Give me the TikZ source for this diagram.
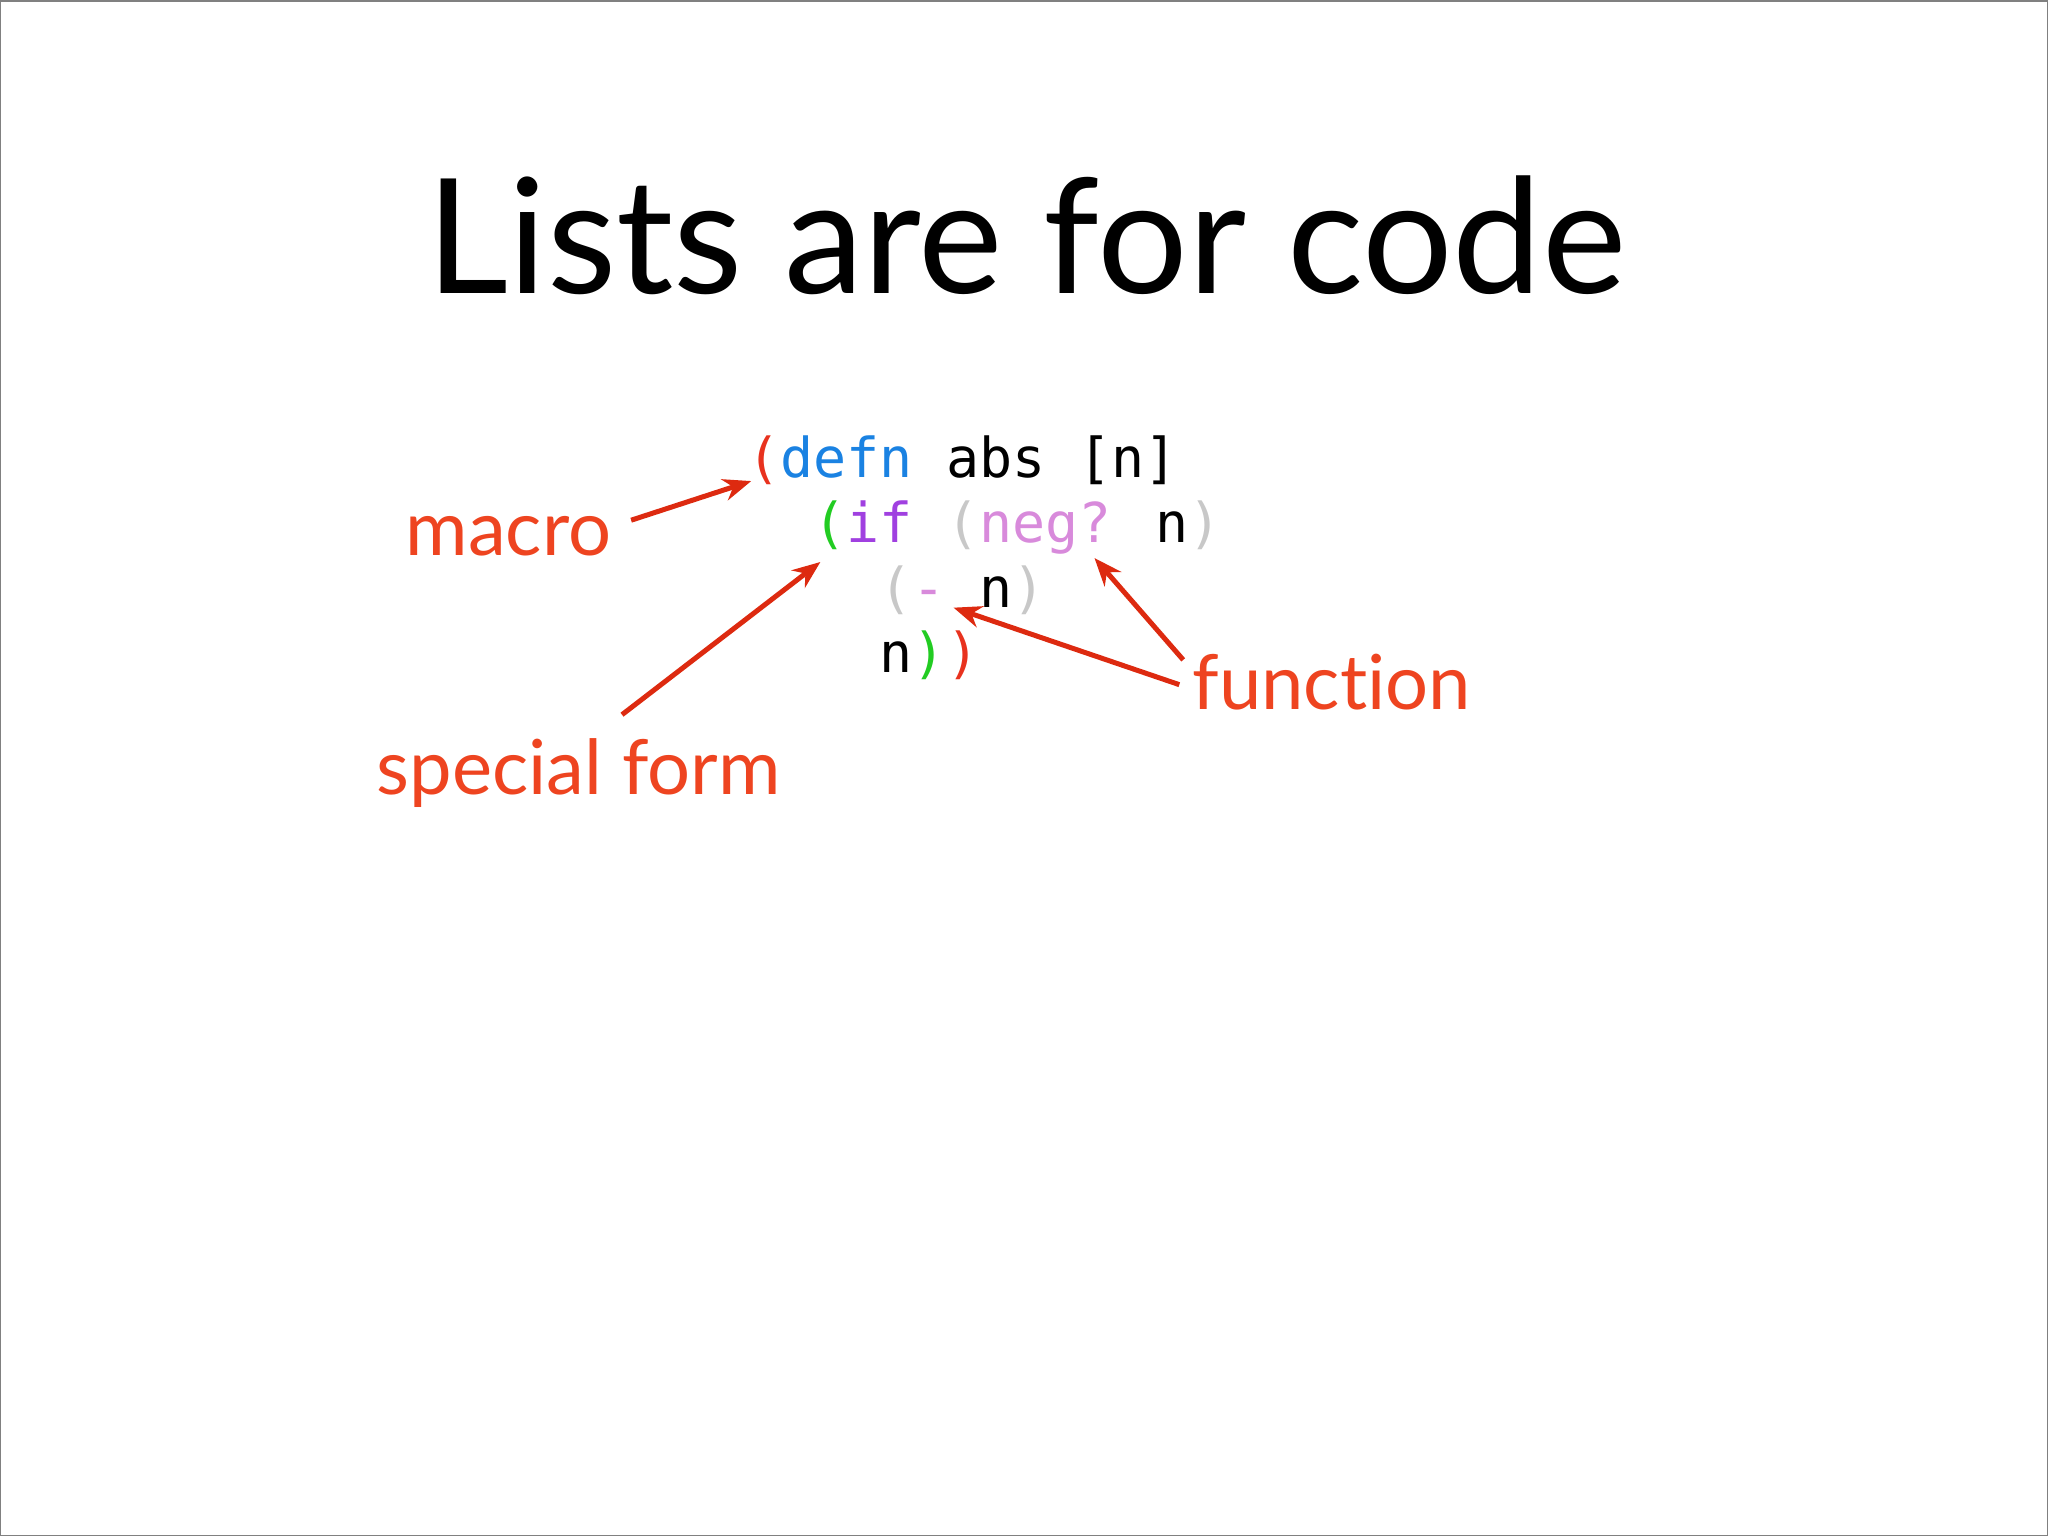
\documentclass[tikz,border=0pt]{standalone}
\usepackage{fontspec}
\setmainfont[Ligatures=NoCommon]{Lato}
\newfontfamily\codefont{DejaVu Sans Mono}
\usetikzlibrary{arrows.meta}
\definecolor{lbl}{HTML}{EE4420}
\definecolor{arr}{HTML}{DD2A10}
\definecolor{cred}{HTML}{E8321E}
\definecolor{cblue}{HTML}{1A82E2}
\definecolor{cgreen}{HTML}{22CC22}
\definecolor{cpurple}{HTML}{A040E0}
\definecolor{cpink}{HTML}{D88ADB}
\definecolor{cgray}{HTML}{C8C8C8}
\tikzset{
 lab/.style={anchor=base west,inner sep=0,text=lbl,font=\fontsize{76}{80}\selectfont},
 code/.style={anchor=base west,inner sep=0,font=\codefont\fontsize{55}{60}\selectfont},
 pointer/.style={draw=arr,line width=5pt,-{Stealth[length=28pt,width=22pt]}}
}
\begin{document}
\begin{tikzpicture}[x=1.30612pt,y=-1.30612pt]
\draw[gray,line width=1.5pt] (0,0) rectangle (1568,1176);
\node[anchor=base,inner sep=0,font=\fontsize{160}{170}\selectfont] (title) at (786,224) {Lists are for code};
\node[code] (l1) at (572,365) {\textcolor{cred}{(}\textcolor{cblue}{defn} abs [n]};
\node[code] (l2) at (572,415) {\phantom{xx}\textcolor{cgreen}{(}\textcolor{cpurple}{if} \textcolor{cgray}{(}\textcolor{cpink}{neg?} n\textcolor{cgray}{)}};
\node[code] (l3) at (572,465) {\phantom{xxxx}\textcolor{cgray}{(}\textcolor{cpink}{-} n\textcolor{cgray}{)}};
\node[code] (l4) at (572,515) {\phantom{xxxx}n\textcolor{cgreen}{)}\textcolor{cred}{)}};
\node[lab] (macro) at (310,425) {macro};
\node[lab] (special) at (288,608) {special form};
\node[lab] (function) at (913,543) {function};
\coordinate (m1) at (483,398); \coordinate (m2) at (575,368);
\coordinate (s1) at (476,547); \coordinate (s2) at (628,430);
\coordinate (f1) at (903,524); \coordinate (f2) at (730,465);
\coordinate (g1) at (906,505); \coordinate (g2) at (838,427);
\draw[pointer] (m1) -- (m2);
\draw[pointer] (s1) -- (s2);
\draw[pointer] (f1) -- (f2);
\draw[pointer] (g1) -- (g2);
\end{tikzpicture}
\end{document}
